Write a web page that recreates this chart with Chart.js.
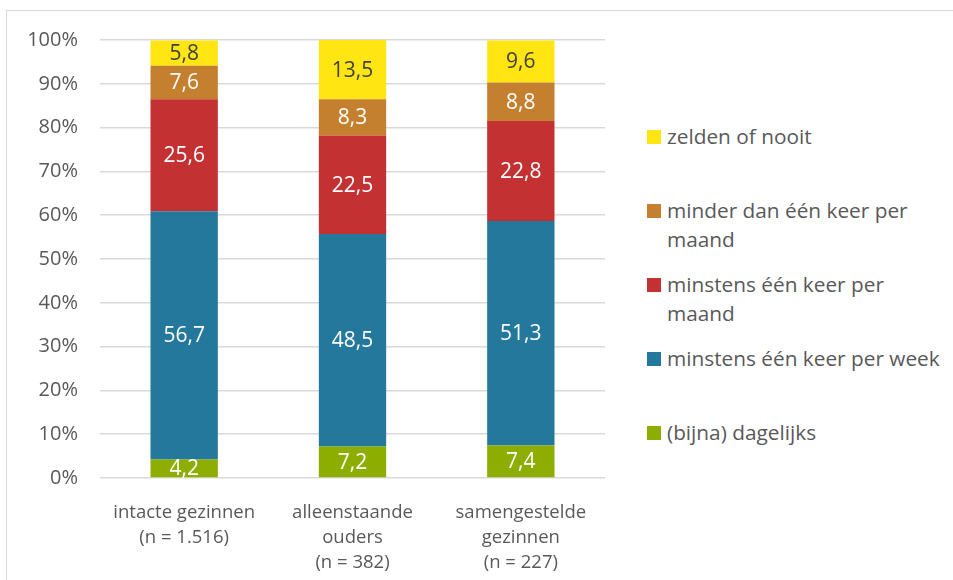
<!DOCTYPE html>
<html>
<head>
<meta charset="utf-8">
<script src="https://cdn.jsdelivr.net/npm/chart.js@4.4.1/dist/chart.umd.min.js"></script>
<style>
  html, body { margin: 0; padding: 0; background: #fff; }
  body { width: 953px; height: 580px; position: relative; overflow: hidden; font-family: "Open Sans", sans-serif; }
  #frame { position: absolute; left: 6px; top: 10px; width: 1000px; height: 600px; border: 1px solid #d9d9d9; box-sizing: border-box; }
  #wrap { position: absolute; left: 0; top: 0; width: 620px; height: 580px; }
  #legend { position: absolute; left: 0; top: 0; }
  .item { position: absolute; left: 647px; width: 300px; color: #595959; font-size: 20.8px; line-height: 29px; }
  .item .box { position: absolute; left: 0; top: 8px; width: 14px; height: 14px; }
  .item .txt { position: absolute; left: 20px; white-space: nowrap; }
</style>
</head>
<body>
<div id="frame"></div>
<div id="wrap"><canvas id="chart" width="620" height="580"></canvas></div>
<div id="legend"></div>
<script>
const categories = [
  ["intacte gezinnen", "(n = 1.516)"],
  ["alleenstaande", "ouders", "(n = 382)"],
  ["samengestelde", "gezinnen", "(n = 227)"]
];

// series from bottom of the stack to the top
const seriesNames = [
  ["(bijna) dagelijks"],
  ["minstens één keer per week"],
  ["minstens één keer per", "maand"],
  ["minder dan één keer per", "maand"],
  ["zelden of nooit"]
];
const dagelijks = [4.2, 7.2, 7.4];
const perWeek = [56.7, 48.5, 51.3];
const perMaand = [25.6, 22.5, 22.8];
const minderDanMaand = [7.6, 8.3, 8.8];
const zelden = [5.8, 13.5, 9.6];
const seriesColors = ["#8dae00", "#23789c", "#c43133", "#c5802f", "#ffe512"];
const labelColors = ["#fff", "#fff", "#fff", "#fff", "#404040"];
const yTicks = [0, 10, 20, 30, 40, 50, 60, 70, 80, 90, 100];

const seriesValues = [dagelijks, perWeek, perMaand, minderDanMaand, zelden];
const textColor = "#595959";
const fontFamily = '"Open Sans", sans-serif';

// value labels in the middle of each segment
const barValues = {
  id: "barValues",
  afterDatasetsDraw(chart) {
    const ctx = chart.ctx;
    const area = chart.chartArea;
    ctx.save();
    ctx.beginPath();
    ctx.rect(area.left, area.top, area.right - area.left, area.bottom - area.top);
    ctx.clip();
    ctx.font = "21px " + fontFamily;
    ctx.textAlign = "center";
    ctx.textBaseline = "middle";
    chart.data.datasets.forEach((ds, i) => {
      chart.getDatasetMeta(i).data.forEach((bar, j) => {
        ctx.fillStyle = labelColors[i];
        const txt = ds.data[j].toFixed(1).replace(".", ",");
        ctx.fillText(txt, bar.x, (bar.y + bar.base) / 2 + 1);
      });
    });
    ctx.restore();
  }
};

new Chart(document.getElementById("chart"), {
  type: "bar",
  data: {
    labels: categories,
    datasets: seriesValues.map((vals, i) => ({
      label: seriesNames[i].join(" "),
      data: vals,
      backgroundColor: seriesColors[i],
      borderWidth: 0,
      categoryPercentage: 0.8,
      barPercentage: 0.5
    }))
  },
  options: {
    responsive: false,
    animation: false,
    devicePixelRatio: 1,
    layout: { padding: { top: 40, right: 15, left: 0, bottom: 0 } },
    plugins: {
      legend: { display: false },
      tooltip: { enabled: false }
    },
    scales: {
      x: {
        stacked: true,
        grid: { display: false },
        border: { display: false },
        ticks: {
          color: textColor,
          font: { family: fontFamily, size: 18.5, lineHeight: "25px" },
          padding: 14,
          maxRotation: 0,
          autoSkip: false
        },
        afterFit: s => { s.height = 102; }
      },
      y: {
        stacked: true,
        min: 0,
        max: 100,
        afterBuildTicks: s => { s.ticks = yTicks.map(v => ({ value: v })); },
        grid: { color: "#d9d9d9", lineWidth: 1.5, drawTicks: false },
        border: { display: false },
        ticks: {
          color: textColor,
          font: { family: fontFamily, size: 20 },
          padding: 22,
          callback: v => v + "%"
        },
        afterFit: s => { s.width = 100; }
      }
    }
  },
  plugins: [barValues]
});

// legend on the right, top entry is the top of the stack
const legend = document.getElementById("legend");
for (let k = 0; k < seriesNames.length; k++) {
  const i = seriesNames.length - 1 - k;
  const item = document.createElement("div");
  item.className = "item";
  item.style.top = (122 + k * 74) + "px";
  item.innerHTML = '<span class="box" style="background:' + seriesColors[i] + '"></span>' +
    '<span class="txt">' + seriesNames[i].join("<br>") + "</span>";
  legend.appendChild(item);
}
</script>
</body>
</html>
